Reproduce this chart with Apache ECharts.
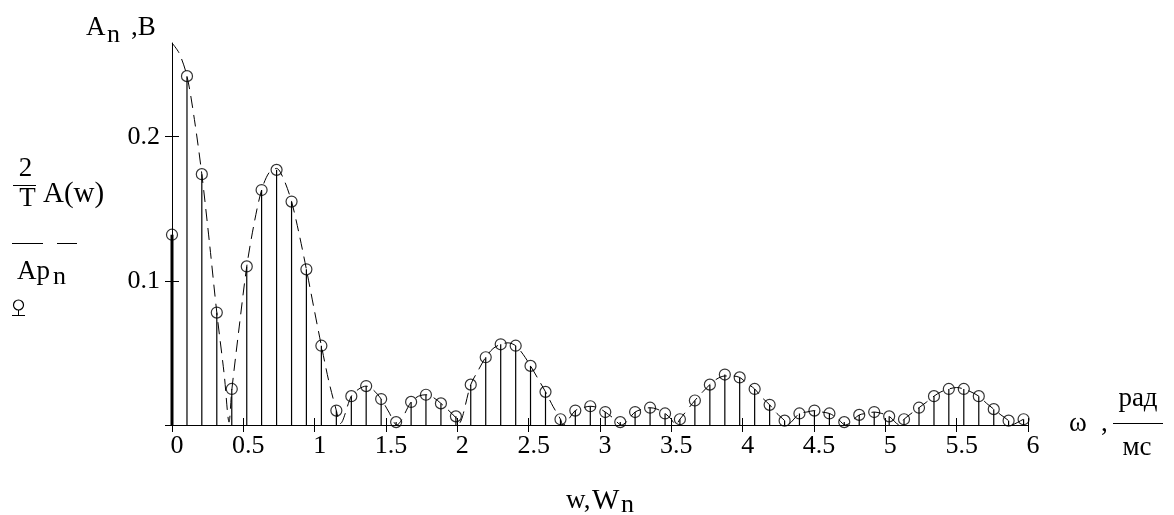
<!DOCTYPE html>
<html><head><meta charset="utf-8">
<script src="https://cdn.jsdelivr.net/npm/echarts@6/dist/echarts.min.js"></script>
<style>html,body{margin:0;padding:0;background:#fff}#c{width:1174px;height:515px}</style>
</head><body><div id="c"></div>
<script>
// Harmonic frequencies W_n (rad/ms) read from the stems
const stemX = [0, 0.105, 0.209, 0.314, 0.419, 0.524, 0.628, 0.733, 0.838, 0.942,
  1.047, 1.152, 1.257, 1.361, 1.466, 1.571, 1.676, 1.780, 1.885, 1.990,
  2.094, 2.199, 2.304, 2.409, 2.513, 2.618, 2.723, 2.827, 2.932, 3.037,
  3.142, 3.246, 3.351, 3.456, 3.560, 3.665, 3.770, 3.875, 3.979, 4.084,
  4.189, 4.294, 4.398, 4.503, 4.608, 4.712, 4.817, 4.922, 5.027, 5.131,
  5.236, 5.341, 5.445, 5.550, 5.655, 5.760, 5.864, 5.969];
// Amplitudes Ap_n (V)
const stemY = [0.132, 0.242, 0.174, 0.078, 0.025, 0.110, 0.163, 0.177, 0.155, 0.108,
  0.055, 0.010, 0.020, 0.027, 0.018, 0.002, 0.016, 0.021, 0.015, 0.006,
  0.028, 0.047, 0.056, 0.055, 0.041, 0.023, 0.004, 0.010, 0.013, 0.009,
  0.002, 0.009, 0.012, 0.008, 0.004, 0.017, 0.028, 0.035, 0.033, 0.025,
  0.014, 0.003, 0.008, 0.010, 0.008, 0.002, 0.007, 0.009, 0.006, 0.004,
  0.012, 0.020, 0.025, 0.025, 0.020, 0.011, 0.003, 0.004];
// Envelope (2/T)·A(w)
const curveX = [0, 0.05, 0.105, 0.157, 0.209, 0.262, 0.314, 0.366, 0.40, 0.419,
  0.471, 0.524, 0.576, 0.628, 0.68, 0.733, 0.785, 0.838, 0.89, 0.942,
  0.995, 1.047, 1.10, 1.152, 1.18, 1.257, 1.31, 1.361, 1.414, 1.466,
  1.52, 1.575, 1.676, 1.728, 1.78, 1.833, 1.885, 1.99, 2.01, 2.094,
  2.147, 2.199, 2.25, 2.304, 2.356, 2.409, 2.461, 2.513, 2.566, 2.618,
  2.67, 2.723, 2.74, 2.827, 2.88, 2.932, 2.985, 3.037, 3.09, 3.15,
  3.246, 3.30, 3.351, 3.40, 3.456, 3.50, 3.53, 3.56, 3.665, 3.72,
  3.77, 3.82, 3.875, 3.93, 3.979, 4.03, 4.084, 4.136, 4.189, 4.24,
  4.294, 4.31, 4.398, 4.45, 4.503, 4.555, 4.608, 4.66, 4.72, 4.817,
  4.87, 4.922, 4.975, 5.027, 5.10, 5.131, 5.236, 5.29, 5.341, 5.39,
  5.445, 5.50, 5.55, 5.60, 5.655, 5.71, 5.76, 5.81, 5.864, 5.88,
  5.969, 6.0];
const curveY = [0.265, 0.258, 0.242, 0.212, 0.174, 0.127, 0.078, 0.035, 0.002, 0.024,
  0.068, 0.110, 0.140, 0.163, 0.175, 0.178, 0.170, 0.155, 0.133, 0.108,
  0.081, 0.055, 0.030, 0.010, 0.001, 0.020, 0.025, 0.027, 0.024, 0.018,
  0.009, 0.000, 0.016, 0.020, 0.021, 0.019, 0.015, 0.005, 0.001, 0.028,
  0.038, 0.047, 0.053, 0.056, 0.057, 0.055, 0.049, 0.041, 0.032, 0.023,
  0.013, 0.004, 0.000, 0.010, 0.012, 0.013, 0.012, 0.009, 0.005, 0.000,
  0.009, 0.011, 0.012, 0.011, 0.008, 0.004, 0.000, 0.004, 0.017, 0.023,
  0.028, 0.032, 0.034, 0.034, 0.033, 0.029, 0.025, 0.019, 0.014, 0.008,
  0.003, 0.000, 0.008, 0.009, 0.010, 0.009, 0.008, 0.005, 0.000, 0.007,
  0.008, 0.009, 0.008, 0.006, 0.000, 0.004, 0.012, 0.016, 0.020, 0.023,
  0.025, 0.026, 0.025, 0.023, 0.020, 0.015, 0.011, 0.007, 0.003, 0.000,
  0.004, 0.005];
const xTicks = [0, 6, 0.5];          // min, max, step
const yTickLabels = [0.1, 0.2];
const yMax = 0.265;

const FF = '"Liberation Serif","Times New Roman",serif';
const chart = echarts.init(document.getElementById('c'), null, {renderer: 'canvas'});

function txt(text, x, y, size, align) {
  return {type: 'text', x: x, y: y, silent: true,
    style: {text: text, font: size + 'px ' + FF, fill: '#000',
      textAlign: align || 'left', textVerticalAlign: 'middle',
      align: align || 'left', verticalAlign: 'middle'}};
}
function ln(x1, y1, x2, y2, dash) {
  return {type: 'line', silent: true, shape: {x1: x1, y1: y1, x2: x2, y2: y2},
    style: {stroke: '#000', lineWidth: 1, lineDash: dash || null}};
}

const option = {
  animation: false,
  backgroundColor: '#fff',
  grid: {left: 172, right: 146, top: 43, bottom: 90, containLabel: false},
  xAxis: [{
    type: 'value', min: xTicks[0], max: xTicks[1], interval: xTicks[2], position: 'bottom',
    axisLine: {show: true, onZero: false, lineStyle: {color: '#000', width: 1}},
    axisTick: {show: true, length: 7, lineStyle: {color: '#000', width: 1}},
    splitLine: {show: false},
    axisLabel: {show: true, fontFamily: FF, fontSize: 26, color: '#000', margin: 8,
      padding: [0, 0, 0, 10], showMinLabel: true, showMaxLabel: true}
  }, {
    type: 'value', min: xTicks[0], max: xTicks[1], interval: xTicks[2], position: 'bottom',
    axisLine: {show: false},
    axisTick: {show: true, inside: true, length: 7, lineStyle: {color: '#000', width: 1}},
    axisLabel: {show: false}, splitLine: {show: false}
  }],
  yAxis: [{
    type: 'value', min: 0, max: yMax, position: 'left',
    axisLine: {show: true, onZero: false, lineStyle: {color: '#000', width: 1}},
    axisTick: {show: true, length: 7, customValues: [0].concat(yTickLabels), lineStyle: {color: '#000', width: 1}},
    splitLine: {show: false},
    axisLabel: {show: true, customValues: yTickLabels, fontFamily: FF, fontSize: 26, color: '#000', margin: 12,
      formatter: v => Number(v).toFixed(1)}
  }, {
    type: 'value', min: 0, max: yMax, position: 'left',
    axisLine: {show: false},
    axisTick: {show: true, inside: true, length: 7, customValues: yTickLabels, lineStyle: {color: '#000', width: 1}},
    axisLabel: {show: false}, splitLine: {show: false}
  }],
  series: [{
    type: 'line', name: 'curve', xAxisIndex: 0, yAxisIndex: 0,
    data: curveX.map((x, i) => [x, curveY[i]]),
    showSymbol: false, smooth: 0.3, z: 2,
    lineStyle: {color: '#000', width: 1, type: [12, 7]}
  }, {
    type: 'custom', name: 'stems', xAxisIndex: 0, yAxisIndex: 0, z: 3,
    data: stemX.map((x, i) => [x, stemY[i]]),
    renderItem: function (params, api) {
      const p0 = api.coord([api.value(0), 0]);
      const p1 = api.coord([api.value(0), api.value(1)]);
      return {type: 'line', shape: {x1: p0[0], y1: p0[1], x2: p1[0], y2: p1[1]},
        style: {stroke: '#000', lineWidth: params.dataIndex === 0 ? 3 : 1.2}};
    }
  }, {
    type: 'scatter', name: 'points', xAxisIndex: 0, yAxisIndex: 0, z: 4,
    data: stemX.map((x, i) => [x, stemY[i]]),
    symbol: 'circle', symbolSize: 11,
    itemStyle: {color: 'rgba(0,0,0,0)', borderColor: '#000', borderWidth: 1.2}
  }],
  graphic: {elements: [
    txt('A', 86, 28, 27), txt('n', 107, 35, 26), txt(',B', 131, 28, 27),
    txt('2', 25.5, 169, 27, 'center'), ln(13, 185.5, 36, 185.5), txt('T', 27.5, 199, 27, 'center'),
    txt('A(w)', 43, 194, 29),
    ln(12, 243.5, 43, 243.5), ln(57, 243.5, 77, 243.5),
    txt('Ap', 17, 272, 27), txt('n', 53, 277, 26),
    {type: 'circle', silent: true, shape: {cx: 18.5, cy: 305, r: 5}, style: {fill: 'none', stroke: '#000', lineWidth: 1.2}},
    ln(18.5, 310, 18.5, 315.5), ln(12, 315.5, 25, 315.5),
    txt('w,', 566, 501, 27), txt('W', 592, 501, 29), txt('n', 621, 505, 26),
    txt('ω', 1069, 424, 27), txt(',', 1101, 424, 27),
    txt('рад', 1138, 399, 27, 'center'), ln(1113, 423.5, 1163, 423.5), txt('мс', 1137, 448, 27, 'center')
  ]}
};
chart.setOption(option);
</script></body></html>
